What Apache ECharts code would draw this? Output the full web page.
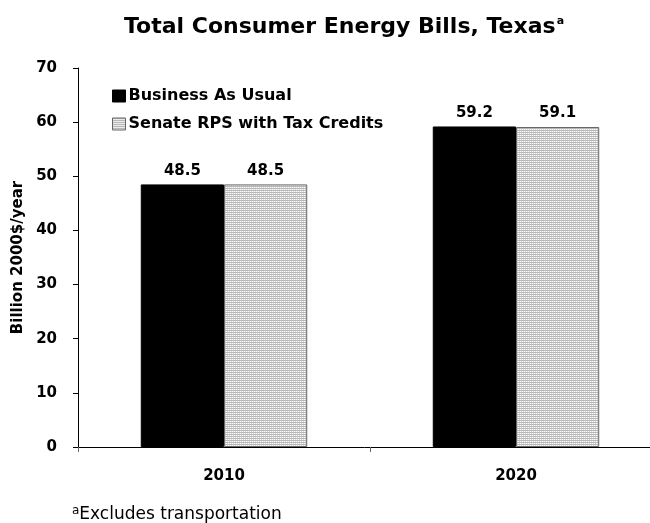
<!DOCTYPE html>
<html><head><meta charset="utf-8">
<script src="https://cdn.jsdelivr.net/npm/echarts@6/dist/echarts.min.js"></script>
<style>html,body{margin:0;padding:0;background:#fff}#c{width:650px;height:523px}</style>
</head><body><div id="c"></div>
<script>
var categories = ['2010', '2020'];
var seriesNames = ['Business As Usual', 'Senate RPS with Tax Credits'];
var businessAsUsual = [48.5, 59.2];
var senateRPS = [48.5, 59.1];
var yTicks = [0, 10, 20, 30, 40, 50, 60, 70];

var pc = document.createElement('canvas');
pc.width = 4; pc.height = 2;
var g = pc.getContext('2d');
g.fillStyle = '#ffffff'; g.fillRect(0, 0, 4, 2);
g.fillStyle = '#b8b8b8'; g.fillRect(0, 0, 4, 1);
g.fillStyle = '#d8d8d8'; g.fillRect(1, 1, 1, 1); g.fillRect(3, 1, 1, 1);
var patternFill = { image: pc, repeat: 'repeat' };

var font = 'DejaVu Sans, Verdana, sans-serif';
var chart = echarts.init(document.getElementById('c'));
chart.setOption({
  animation: false,
  backgroundColor: '#fff',
  textStyle: { fontFamily: font },
  title: {
    text: '{t|Total Consumer Energy Bills, Texas}{s|a}',
    left: 119, top: 11,
    textStyle: {
      rich: {
        t: { fontFamily: font, fontWeight: 'bold', fontSize: 22, color: '#000' },
        s: { fontFamily: font, fontWeight: 'bold', fontSize: 11, color: '#000', verticalAlign: 'top', padding: [0, 0, 10, 1] }
      }
    }
  },
  legend: {
    orient: 'vertical', left: 112, top: 88, itemGap: 12, padding: 0,
    itemWidth: 13, itemHeight: 12,
    icon: 'rect',
    textStyle: { fontFamily: font, fontWeight: 'bold', fontSize: 16, color: '#000', padding: [0, 0, 0, -2] },
    data: [
      { name: seriesNames[0], itemStyle: { color: '#000', borderColor: '#000', borderWidth: 1 } },
      { name: seriesNames[1], itemStyle: { color: patternFill, borderColor: '#666', borderWidth: 1 } }
    ]
  },
  graphic: [{
    type: 'text', left: 72, top: 505,
    style: {
      text: '{s|a}{t|Excludes transportation}',
      rich: {
        s: { fontFamily: font, fontSize: 12, color: '#000', verticalAlign: 'top', padding: [0, 0, 8, 0] },
        t: { fontFamily: font, fontSize: 17, color: '#000' }
      }
    }
  }],
  grid: { left: 78, top: 68, width: 584, height: 379, outerBoundsMode: 'none', containLabel: false },
  xAxis: {
    type: 'category', data: categories,
    axisLine: { lineStyle: { color: '#000', width: 1 } },
    axisTick: { show: true, length: 5, lineStyle: { color: '#666' } },
    axisLabel: { fontFamily: font, fontWeight: 'bold', fontSize: 15, color: '#000', margin: 22 }
  },
  yAxis: {
    type: 'value', min: yTicks[0], max: yTicks[yTicks.length - 1], interval: 10,
    name: 'Billion 2000$/year', nameLocation: 'middle', nameGap: 52,
    nameTextStyle: { fontFamily: font, fontWeight: 'bold', fontSize: 15, color: '#000' },
    axisLine: { show: true, lineStyle: { color: '#000', width: 1 } },
    axisTick: { show: true, length: 5, lineStyle: { color: '#000' } },
    splitLine: { show: false },
    axisLabel: { fontFamily: font, fontWeight: 'bold', fontSize: 15, color: '#000', margin: 21 }
  },
  series: [
    {
      name: seriesNames[0], type: 'bar', data: businessAsUsual,
      barGap: '0%', barCategoryGap: '43%',
      itemStyle: { color: '#000', borderColor: '#000', borderWidth: 1 },
      label: { show: true, position: 'top', distance: 6, fontFamily: font, fontWeight: 'bold', fontSize: 15, color: '#000' }
    },
    {
      name: seriesNames[1], type: 'bar', data: senateRPS,
      barGap: '0%', barCategoryGap: '43%',
      itemStyle: { color: patternFill, borderColor: '#666', borderWidth: 1 },
      label: { show: true, position: 'top', distance: 6, fontFamily: font, fontWeight: 'bold', fontSize: 15, color: '#000' }
    }
  ]
});
</script></body></html>
